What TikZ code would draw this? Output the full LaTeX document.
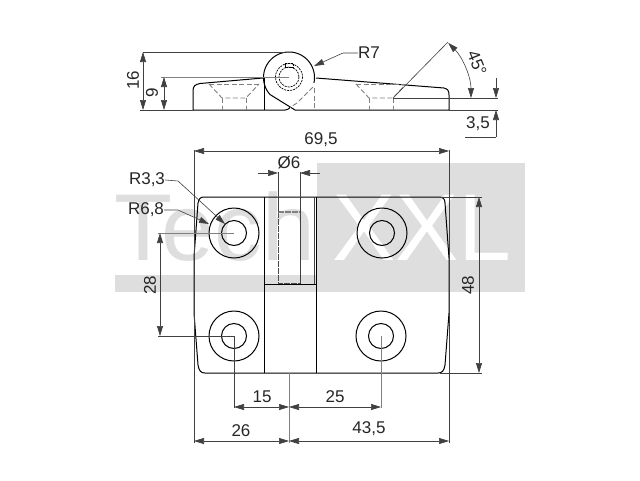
\documentclass[tikz,border=0pt]{standalone}
\usepackage{fontspec}
\setmainfont{Liberation Sans}
\usetikzlibrary{arrows.meta}
\definecolor{markgray}{rgb}{0.87,0.87,0.87}
\definecolor{dimgray}{rgb}{0.25,0.25,0.25}
\definecolor{centergray}{rgb}{0.5,0.5,0.5}
\tikzset{
  outline/.style={black,line width=1pt},
  hidden/.style={centergray,line width=0.9pt,dash pattern=on 5pt off 2.5pt},
  borehidden/.style={black!70,line width=0.9pt,dash pattern=on 6pt off 1pt},
  dimline/.style={dimgray,line width=0.6pt},
  center/.style={centergray,line width=1pt},
  label/.style={font=\fontsize{17}{17}\selectfont,inner sep=0pt,text=black!85},
  tip/.style={-{Triangle[length=10pt,width=6pt]}},
  tips/.style={{Triangle[length=10pt,width=6pt]}-{Triangle[length=10pt,width=6pt]}},
}
\newcommand{\drawhole}[2]{
  \draw[outline] (#1,#2) circle[radius=25];
  \draw[outline] (#1,#2) circle[radius=12.5];
}
\newcommand{\drawsink}[1]{
  \draw[hidden] (#1-25,84) -- (#1+25,84);
  \draw[hidden] (#1-25,84) -- (#1-12,98) -- (#1+12,98) -- (#1+25,84);
  \draw[hidden] (#1-12,98) -- (#1-12,110);
  \draw[hidden] (#1+12,98) -- (#1+12,110);
}
\begin{document}
\begin{tikzpicture}[x=1pt,y=-1pt]
  \useasboundingbox (0,0) rectangle (640,480);
  \fill[white] (0,0) rectangle (640,480);
  %% watermark
  \fill[markgray] (115,275) rectangle (525,292);
  \fill[markgray] (317,163) rectangle (525,292);
  \node[anchor=base west,inner sep=0pt,text=markgray,font=\fontsize{95}{95}\selectfont] (marktech) at (114,260) {Tech};
  \node[anchor=base west,inner sep=0pt,text=white,font=\fontsize{95}{95}\selectfont] (markxxl) at (332,260) {XXL};

  %% side view
  \draw[outline] (263,78) -- (200,83.5) .. controls (195,84.5) and (193,86) .. (193,91) -- (193,110) -- (285,110) .. controls (287,110) and (289,109) .. (290,107.5);
  \draw[outline] (264,78) -- (264,110);
  \draw[outline] (316,78) -- (444,88) .. controls (448,89) and (449,91) .. (449,95) -- (449,110) -- (295,110);
  \draw[outline] plot[domain=-12:222,samples=70] ({289+25.5*cos(\x)},{77.5-25.5*sin(\x)}) -- (295,110);
  \draw[hidden] (313,87) -- (297,103) -- (290,107.5);
  \draw[hidden] (314,88) -- (314,110);
  \draw[black,line width=0.7pt,dash pattern=on 2pt off 1pt] (289,77) circle[radius=13.5];
  \draw[black,line width=0.7pt,dash pattern=on 2pt off 1pt] (289,77) circle[radius=10];
  \draw[black,line width=0.6pt,dash pattern=on 2pt off 0.7pt] (285,63.5) rectangle (293,67.5);
  \drawsink{234}
  \drawsink{381}

  %% front view
  \draw[outline] (194,257) -- (198,203) .. controls (199,199) and (200,197) .. (204,197) -- (439,197) .. controls (443,197) and (445,199) .. (445,203) -- (449,258);
  \draw[outline] (194,257) -- (194,313) -- (198,365) .. controls (199,371) and (201,373) .. (205,373) -- (438,373) .. controls (442,373) and (444,371) .. (445,365) -- (449,313) -- (449,258);
  \draw[outline] (264,197) -- (264,373);
  \draw[outline] (316,197) -- (316,373);
  \draw[dimline] (314,197) -- (314,284);
  \draw[outline] (264,284) -- (316,284);
  \draw[borehidden] (278,212) -- (278,283) -- (300,283) -- (300,212);
  \draw[centergray,line width=1.6pt,dash pattern=on 6pt off 1pt] (278,212) -- (300,212);
  \drawhole{234}{233}
  \drawhole{382}{233}
  \drawhole{234}{336}
  \drawhole{381}{336}

  %% extension lines
  \draw[dimline] (143,52) -- (285,52);
  \draw[dimline] (140,110) -- (193,110);
  \draw[center] (161,77) -- (289,77);
  \draw[dimline] (393,98) -- (448,42);
  \draw[dimline] (393,98) -- (498,98);
  \draw[dimline] (449,110) -- (498,110);
  \draw[dimline] (194,150) -- (194,443);
  \draw[dimline] (449,150) -- (449,443);
  \draw[dimline] (278,172) -- (278,212);
  \draw[dimline] (300,172) -- (300,284);
  \draw[dimline] (440,197) -- (482,197);
  \draw[dimline] (440,373) -- (482,373);
  \draw[center] (158,233) -- (234,233);
  \draw[dimline] (158,336) -- (234,336);
  \draw[center] (289,373) -- (289,443);
  \draw[dimline] (234,336) -- (234,408);
  \draw[center] (381,336) -- (381,408);

  %% dimensions
  \draw[dimline,tips] (143,52) -- (143,110);
  \node[label,rotate=90] (dimsixteen) at (133,80) {16};
  \draw[dimline,tips] (164,77) -- (164,110);
  \node[label,rotate=90] (dimnine) at (152,93) {9};
  \draw[dimline,tip] (496,78) -- (496,98);
  \draw[dimline,tip] (496,137) -- (496,110);
  \draw[dimline] (465,137) -- (496,137);
  \node[label] (dimsink) at (478,124) {3,5};
  \draw[dimline,tips] (448.15,42.85) .. controls (462.8,57.5) and (471,77.3) .. (471,98);
  \node[label,rotate=-68] (dimangle) at (477,63) {45°};
  \node[label] (dimwidth) at (321,140) {69,5};
  \draw[dimline,tips] (194,151) -- (449,151);
  \node[label] (dimbore) at (289,163) {Ø6};
  \draw[dimline,tip] (258,173) -- (278,173);
  \draw[dimline,tip] (320,173) -- (300,173);
  \draw[dimline,tips] (479,197) -- (479,373);
  \node[label,rotate=90] (dimheight) at (468,285) {48};
  \draw[dimline,tips] (160,233) -- (160,336);
  \node[label,rotate=90] (dimpitch) at (150,285) {28};
  \draw[dimline,tips] (234,407) -- (289,407);
  \node[label] (dimfifteen) at (262,397) {15};
  \draw[dimline,tips] (289,407) -- (381,407);
  \node[label] (dimtwentyfive) at (335,397) {25};
  \draw[dimline,tips] (194,441) -- (289,441);
  \node[label] (dimleft) at (241,431) {26};
  \draw[dimline,tips] (289,441) -- (449,441);
  \node[label] (dimright) at (369,429) {43,5};

  %% radius leaders
  \node[label] (radpin) at (369,53) {R7};
  \coordinate (radpintip) at (314,66);
  \draw[dimline,tip] (radpin.west) -- (343,53) -- (radpintip);
  \node[label] (radin) at (147,180) {R3,3};
  \coordinate (radintip) at (225,224);
  \draw[dimline,tip] (radin.east) -- (178,181) -- (radintip);
  \node[label] (radout) at (146,210) {R6,8};
  \coordinate (radouttip) at (209,224);
  \draw[dimline,tip] (radout.east) -- (178,210) -- (radouttip);
\end{tikzpicture}
\end{document}
